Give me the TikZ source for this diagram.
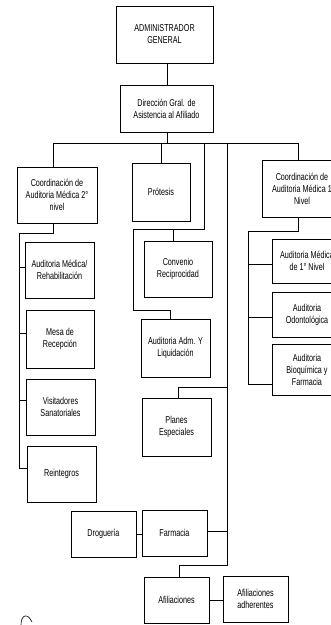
\documentclass[tikz,border=0pt]{standalone}
\usepackage{fontspec}
\setmainfont{Liberation Sans}[FakeStretch=0.72]
\begin{document}
\begin{tikzpicture}[x=1pt,y=-1pt,
  box/.style={draw, line width=0.8pt, align=center, inner sep=0pt, font=\fontsize{10}{12}\selectfont},
  conn/.style={line width=0.8pt}]
\useasboundingbox (0,0) rectangle (331,625);
\clip (0,0) rectangle (331,625);
% boxes
\node[box, minimum width=97, minimum height=57] (admin) at (164.5,34.5) {ADMINISTRADOR\\GENERAL};
\node[box, minimum width=93, minimum height=47] (dir) at (166.5,108.5) {Dirección Gral. de\\Asistencia al Afiliado};
\node[box, minimum width=80, minimum height=56] (coordB) at (57,195) {Coordinación de\\Auditoria Médica 2°\\nivel};
\node[box, minimum width=69, minimum height=56] (rehab) at (59.5,270) {Auditoria Médica/\\Rehabilitación};
\node[box, minimum width=68, minimum height=58] (mesa) at (60,339) {Mesa de\\Recepción};
\node[box, minimum width=69, minimum height=56] (visit) at (60.5,407) {Visitadores\\Sanatoriales};
\node[box, minimum width=69, minimum height=56] (reint) at (61.5,474) {Reintegros};
\node[box, minimum width=58, minimum height=58] (protesis) at (161,192) {Prótesis};
\node[box, minimum width=68, minimum height=56] (convenio) at (178,269) {Convenio\\Reciprocidad};
\node[box, minimum width=69, minimum height=58] (audadm) at (175.5,348) {Auditoria Adm. Y\\Liquidación};
\node[box, minimum width=69, minimum height=58] (planes) at (176.5,427) {Planes\\Especiales};
\node[box, minimum width=65, minimum height=46] (farmacia) at (174.5,533) {Farmacia};
\node[box, minimum width=65, minimum height=46] (drogueria) at (103.5,534) {Droguería};
\node[box, minimum width=65, minimum height=46] (afil) at (176.5,600) {Afiliaciones};
\node[box, minimum width=65, minimum height=46] (afiladh) at (255.5,599) {Afiliaciones\\adherentes};
\node[box, minimum width=80, minimum height=57] (coordA) at (302,189) {Coordinación de\\Auditoria Médica 1\\Nivel};
\node[box, minimum width=70, minimum height=44] (audmed) at (307,261) {Auditoria Médica\\de 1° Nivel};
\node[box, minimum width=70, minimum height=45] (odonto) at (307,314.5) {Auditoria\\Odontológica};
\node[box, minimum width=70, minimum height=51] (bioq) at (307,370) {Auditoria\\Bioquímica y\\Farmacia};
% junction coordinates
\coordinate (a0) at (167,63);
\coordinate (t0) at (167,143);
\coordinate (tL) at (53,143);
\coordinate (tP) at (161,143);
\coordinate (tM) at (204,143);
\coordinate (tV) at (227,143);
\coordinate (tR) at (298,143);
% top connectors
\draw[conn] (a0) -- (a0 |- dir.north);
\draw[conn] (t0 |- dir.south) -- (t0);
\draw[conn] (tL) -- (tR);
\draw[conn] (tL) -- (tL |- coordB.north);
\draw[conn] (tP) -- (tP |- protesis.north);
\draw[conn] (tR) -- (tR |- coordA.north);
% left column
\coordinate (l1) at (53,233);
\coordinate (l2) at (19,233);
\coordinate (l3) at (19,468);
\coordinate (bRehab) at (19,267);
\coordinate (bMesa) at (19,333);
\coordinate (bVisit) at (19,400);
\draw[conn] (l1 |- coordB.south) -- (l1) -- (l2) -- (l3) -- (l3 -| reint.west);
\draw[conn] (bRehab) -- (bRehab -| rehab.west);
\draw[conn] (bMesa) -- (bMesa -| mesa.west);
\draw[conn] (bVisit) -- (bVisit -| visit.west);
% middle bracket
\coordinate (m1) at (204,229);
\coordinate (m2) at (133,229);
\coordinate (m3) at (133,310);
\coordinate (m4) at (170,310);
\coordinate (mC) at (173,229);
\draw[conn] (tM) -- (m1) -- (m2) -- (m3) -- (m4) -- (m4 |- audadm.north);
\draw[conn] (mC) -- (mC |- convenio.north);
% long vertical
\coordinate (v1) at (227,565);
\coordinate (v2) at (179,565);
\coordinate (vP) at (227,387);
\coordinate (vP2) at (178,387);
\coordinate (vF) at (227,531);
\draw[conn] (tV) -- (v1) -- (v2) -- (v2 |- afil.north);
\draw[conn] (vP) -- (vP2) -- (vP2 |- planes.north);
\draw[conn] (vF) -- (vF -| farmacia.east);
\draw[conn] (drogueria.east) -- (drogueria.east -| farmacia.west);
\draw[conn] (afil.east) -- (afil.east -| afiladh.west);
% right column
\coordinate (r1) at (298,231);
\coordinate (r2) at (248,231);
\coordinate (r3) at (248,384);
\coordinate (bAud) at (248,264);
\coordinate (bOdo) at (248,317);
\draw[conn] (r1 |- coordA.south) -- (r1) -- (r2) -- (r3) -- (r3 -| bioq.west);
\draw[conn] (bAud) -- (bAud -| audmed.west);
\draw[conn] (bOdo) -- (bOdo -| odonto.west);
% stray mark bottom left
\draw[line width=0.6pt] (21,625) .. controls (21,614) and (28,613) .. (32,622);
\end{tikzpicture}
\end{document}
